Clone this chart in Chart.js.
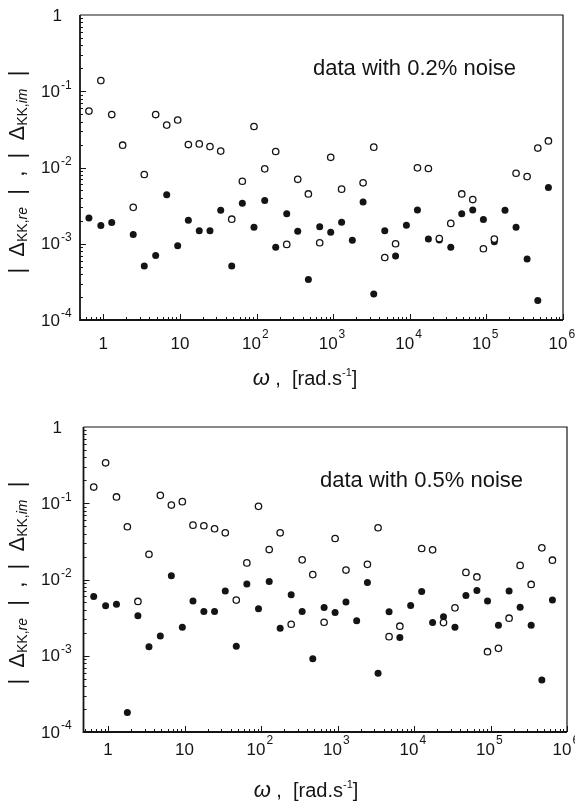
<!DOCTYPE html>
<html>
<head>
<meta charset="utf-8">
<script src="https://cdn.jsdelivr.net/npm/chart.js@4.4.1/dist/chart.umd.min.js"></script>
<style>
  html, body { margin: 0; padding: 0; background: #fff; }
  #wrap { position: relative; width: 575px; height: 806px; overflow: hidden;
          font-family: "Liberation Sans", Arial, sans-serif; color: #141414; }
  canvas { position: absolute; left: 0; }
  .note { position: absolute; font-size: 22px; white-space: nowrap; line-height: 1; transform: translateY(-50%); }
  .ytitle { position: absolute; font-size: 22px; white-space: pre; line-height: 1;
            transform: translate(-50%, -50%) rotate(-90deg); }
  .ytitle sub { font-size: 14px; vertical-align: -3px; }
  .xtitle { position: absolute; font-size: 20px; white-space: pre; line-height: 1; transform: translate(-50%, -50%); }
  .xtitle i { font-size: 22px; }
  .xtitle sup { font-size: 11px; vertical-align: 9px; }
</style>
</head>
<body>
<div id="wrap">
  <canvas id="top" width="575" height="403" style="top:0"></canvas>
  <canvas id="bot" width="575" height="403" style="top:403px"></canvas>

  <div class="ytitle" style="left:17px; top:172px">|  Δ<sub>KK,<i>re</i></sub>  |  ,  |  Δ<sub>KK,<i>im</i></sub>  |</div>
  <div class="ytitle" style="left:17px; top:583px">|  Δ<sub>KK,<i>re</i></sub>  |  ,  |  Δ<sub>KK,<i>im</i></sub>  |</div>
  <div class="xtitle" style="left:305px; top:378px"><i>ω</i> ,  [rad.s<sup>-1</sup>]</div>
  <div class="xtitle" style="left:306px; top:790px"><i>ω</i> ,  [rad.s<sup>-1</sup>]</div>
  <div class="note" style="left:313px; top:68px">data with 0.2% noise</div>
  <div class="note" style="left:320px; top:480px">data with 0.5% noise</div>
</div>

<script>
// frequencies (rad/s), same grid for both panels
const omega = [0.65, 0.93, 1.29, 1.79, 2.46, 3.43, 4.83, 6.73, 9.36, 12.9,
  17.9, 24.7, 34.1, 47.5, 65.3, 92.7, 128, 178, 248, 345,
  475, 668, 930, 1290, 1780, 2460, 3390, 4720, 6530, 9040,
  12600, 17500, 24300, 34300, 47700, 66400, 91400, 127000, 175000, 244000,
  340000, 469000, 645000];

// 0.2% noise
const openTop = [0.055, 0.138, 0.0495, 0.0196, 0.0030, 0.0081, 0.0495, 0.036, 0.042, 0.020,
  0.0204, 0.0188, 0.0164, 0.0021, 0.0066, 0.0345, 0.0096, 0.0162, 0.00098, 0.0070,
  0.0045, 0.00103, 0.0136, 0.0052, null, 0.0063, 0.0185, 0.00066, 0.0010, null,
  0.0099, 0.0097, 0.00117, 0.00185, 0.0045, 0.0038, 0.00086, 0.00115, null, 0.0084,
  0.0076, 0.018, 0.0223];
const filledTop = [0.00218, 0.00174, 0.0019, null, 0.00132, 0.00051, 0.0007, 0.00438, 0.00094, 0.00204,
  0.00148, 0.00148, 0.00276, 0.00051, 0.0034, 0.00164, 0.00369, 0.0009, 0.00247, 0.00146,
  0.00034, 0.00167, 0.00141, 0.00192, 0.00111, 0.00354, 0.00022, 0.00148, 0.00069, 0.00175,
  0.00278, 0.00115, 0.00112, 0.0009, 0.00247, 0.00278, 0.00208, 0.00106, 0.00276, 0.00164,
  0.00063, 0.00018, 0.00547];

// 0.5% noise
const openBottom = [0.163, 0.339, 0.121, 0.0492, 0.00515, 0.0214, 0.127, 0.0947, 0.105, 0.0516,
  0.0507, 0.0463, 0.041, 0.00537, 0.0165, 0.091, 0.0247, 0.041, 0.00259, 0.0181,
  0.0116, 0.00275, 0.0345, 0.0133, null, 0.0158, 0.0477, 0.00178, 0.00244, null,
  0.0255, 0.0245, 0.00272, 0.00425, 0.0124, 0.0108, 0.00113, 0.00125, 0.00311, 0.0153,
  0.00861, 0.026, 0.0179];
const filledBottom = [0.00599, 0.00452, 0.00475, 0.00018, 0.00334, 0.00131, 0.00182, 0.0112, 0.00237, 0.00521,
  0.0038, 0.0038, 0.00705, 0.00133, 0.00873, 0.00412, 0.00944, 0.0023, 0.00631, 0.0038,
  0.00091, 0.00429, 0.00369, 0.00505, 0.00287, 0.00916, 0.00059, 0.00377, 0.00173, 0.00456,
  0.00697, 0.00272, 0.00324, 0.00237, 0.00618, 0.00719, 0.00521, 0.00252, 0.00705, 0.00434,
  0.00252, 0.00048, 0.00537];

// decade exponents used as tick labels
const xTickExp = [0, 1, 2, 3, 4, 5, 6];
const yTickExp = [-4, -3, -2, -1, 0];

const INK = '#141414';

function pts(ys) {
  const out = [];
  ys.forEach((v, i) => { if (v != null) out.push({ x: omega[i], y: v }); });
  return out;
}

// frame, inward minor/major ticks and 10^n labels
function axesPlugin(o) {
  return {
    id: 'axesDeco',
    afterDraw(chart) {
      const { ctx, chartArea: a, scales: { x, y } } = chart;
      ctx.save();
      ctx.strokeStyle = INK;
      ctx.fillStyle = INK;

      ctx.lineWidth = 1.8;
      ctx.beginPath();
      ctx.moveTo(a.left, a.top); ctx.lineTo(a.left, a.bottom); ctx.lineTo(a.right, a.bottom);
      ctx.stroke();
      ctx.lineWidth = 1.2;
      ctx.beginPath();
      ctx.moveTo(a.left, a.top); ctx.lineTo(a.right, a.top); ctx.lineTo(a.right, a.bottom);
      ctx.stroke();

      ctx.lineWidth = 1;
      ctx.beginPath();
      for (let e = -4; e < 0; e++) {
        for (let m = 1; m <= 9; m++) {
          const py = Math.round(y.getPixelForValue(m * Math.pow(10, e))) + 0.5;
          const len = m === 1 ? 6 : 3;
          ctx.moveTo(a.left, py); ctx.lineTo(a.left + len, py);
        }
      }
      for (let e = -1; e <= 6; e++) {
        for (let m = 1; m <= 9; m++) {
          const v = m * Math.pow(10, e);
          if (v < x.min || v > x.max) continue;
          const px = Math.round(x.getPixelForValue(v)) + 0.5;
          const len = m === 1 ? 6 : 3;
          ctx.moveTo(px, a.bottom); ctx.lineTo(px, a.bottom - len);
        }
      }
      ctx.stroke();

      const big = '17px "Liberation Sans", Arial, sans-serif';
      const small = '12px "Liberation Sans", Arial, sans-serif';
      ctx.textBaseline = 'middle';

      yTickExp.forEach(e => {
        const py = y.getPixelForValue(Math.pow(10, e));
        ctx.font = big;
        ctx.textAlign = 'right';
        if (e === 0) { ctx.fillText('1', o.yLab + 2, py + 1); return; }
        ctx.fillText('10', o.yLab, py + 1);
        ctx.font = small;
        ctx.textAlign = 'left';
        ctx.fillText(String(e), o.yLab + 1, py - 6);
      });

      xTickExp.forEach(e => {
        const px = x.getPixelForValue(Math.pow(10, e));
        ctx.font = big;
        ctx.textAlign = 'center';
        if (e < 2) {
          ctx.fillText(e === 0 ? '1' : '10', px, o.xLab);
          return;
        }
        const w1 = ctx.measureText('10').width;
        const cx = px - 5;
        ctx.fillText('10', cx, o.xLab);
        ctx.font = small;
        ctx.textAlign = 'left';
        ctx.fillText(String(e), cx + w1 / 2 + 1, o.xLab - 9);
      });
      ctx.restore();
    }
  };
}

function makeChart(id, openY, filledY, o) {
  return new Chart(document.getElementById(id), {
    type: 'scatter',
    data: {
      datasets: [
        { label: 'open', data: pts(openY), pointRadius: 3.2, pointBorderWidth: 1.3,
          pointBackgroundColor: '#fff', pointBorderColor: INK, showLine: false },
        { label: 'filled', data: pts(filledY), pointRadius: 3.5, pointBorderWidth: 0,
          pointBackgroundColor: INK, pointBorderColor: INK, showLine: false }
      ]
    },
    options: {
      responsive: false,
      animation: false,
      devicePixelRatio: 1,
      layout: { padding: { top: o.top, right: o.right, left: 0, bottom: 0 } },
      plugins: { legend: { display: false }, tooltip: { enabled: false } },
      scales: {
        x: {
          type: 'logarithmic', min: o.xmin, max: 1e6,
          grid: { display: false }, border: { display: false }, ticks: { display: false },
          afterFit: s => { s.height = o.xh; }
        },
        y: {
          type: 'logarithmic', min: 1e-4, max: 1,
          grid: { display: false }, border: { display: false }, ticks: { display: false },
          afterFit: s => { s.width = o.yw; }
        }
      }
    },
    plugins: [axesPlugin(o)]
  });
}

makeChart('top', openTop, filledTop,
  { top: 15, right: 12, xh: 83, yw: 80, xmin: 0.497, yLab: 60, xLab: 344 });
makeChart('bot', openBottom, filledBottom,
  { top: 24, right: 8, xh: 74, yw: 83.5, xmin: 0.478, yLab: 60, xLab: 347 });
</script>
</body>
</html>
